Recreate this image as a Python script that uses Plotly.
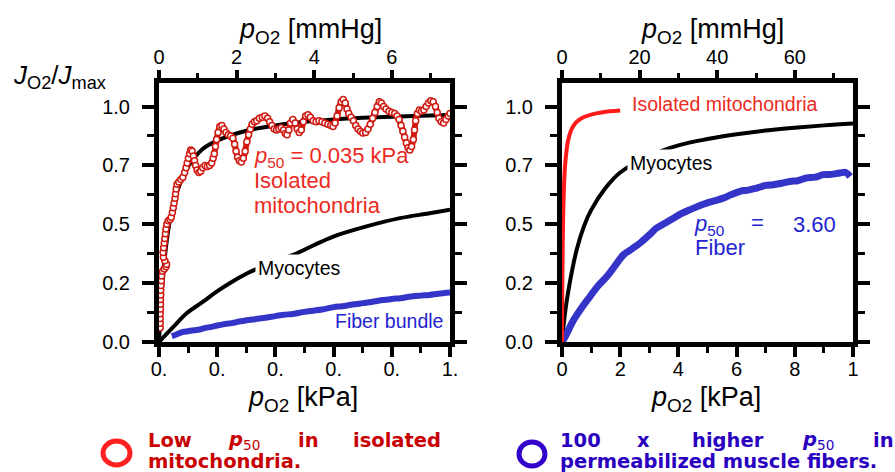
import plotly.graph_objects as go

W, H = 895, 472
KPA_TO_MMHG = 7.5

# ---------------- data (kPa, J/Jmax) ----------------
# Left panel: isolated mitochondria measured points (open circles)
mito_x = [0.004,0.004,0.004,0.004,0.005,0.005,0.005,0.006,0.006,0.007,0.008,0.009,0.012,0.018,0.024,0.026,0.020,0.015,
          0.014,0.016,0.018,0.020,0.022,0.024,0.027,0.032,0.038,0.042,0.046,0.049,0.052,0.055,0.057,0.059,0.062,0.068,
          0.075,0.082,0.088,0.093,0.097,0.101,0.105,0.109,0.114,0.118,0.122,0.126,0.131,0.137,0.143,0.150,0.158,0.166,
          0.174,0.181,0.186,0.190,0.194,0.198,0.203,0.209,0.216,0.223,0.230,0.238,0.246,0.254,0.260,0.265,0.270,0.276,
          0.283,0.290,0.296,0.302,0.308,0.314,0.320,0.328,0.336,0.345,0.355,0.364,0.373,0.380,0.388,0.396,0.404,0.412,
          0.420,0.428,0.434,0.440,0.446,0.452,0.460,0.468,0.475,0.482,0.489,0.496,0.504,0.512,0.520,0.530,0.540,0.550,
          0.560,0.570,0.580,0.590,0.598,0.605,0.612,0.619,0.626,0.633,0.640,0.646,0.652,0.660,0.668,0.676,0.684,0.692,
          0.700,0.710,0.718,0.726,0.734,0.742,0.750,0.757,0.764,0.772,0.780,0.790,0.800,0.810,0.818,0.825,0.832,0.838,
          0.844,0.850,0.856,0.862,0.868,0.874,0.878,0.882,0.888,0.895,0.902,0.910,0.918,0.926,0.934,0.942,0.950,0.956,
          0.962,0.970,0.978,0.986,0.994,1.000]
mito_y = [0.06,0.08,0.10,0.12,0.14,0.16,0.18,0.20,0.22,0.24,0.26,0.28,0.30,0.31,0.32,0.33,0.345,0.36,
          0.38,0.40,0.42,0.44,0.46,0.48,0.50,0.515,0.52,0.53,0.55,0.57,0.59,0.61,0.63,0.65,0.67,0.68,
          0.69,0.70,0.72,0.74,0.76,0.78,0.80,0.815,0.81,0.79,0.77,0.75,0.73,0.72,0.725,0.74,0.75,0.745,
          0.75,0.76,0.78,0.80,0.83,0.86,0.89,0.915,0.92,0.905,0.89,0.88,0.875,0.865,0.84,0.81,0.785,0.77,
          0.765,0.78,0.81,0.85,0.88,0.905,0.925,0.935,0.94,0.95,0.955,0.96,0.95,0.935,0.92,0.905,0.90,0.905,
          0.91,0.90,0.885,0.88,0.90,0.93,0.945,0.93,0.905,0.89,0.90,0.935,0.96,0.965,0.955,0.94,0.935,0.94,
          0.935,0.93,0.925,0.92,0.915,0.93,0.96,0.995,1.02,1.03,1.015,0.99,0.97,0.955,0.94,0.92,0.905,0.895,
          0.888,0.89,0.905,0.925,0.95,0.975,1.0,1.02,1.015,1.0,0.99,0.98,0.975,0.97,0.96,0.945,0.92,0.895,
          0.87,0.845,0.825,0.815,0.83,0.86,0.90,0.94,0.97,0.985,0.98,0.985,1.0,1.015,1.025,1.02,1.0,0.975,
          0.95,0.935,0.93,0.945,0.96,0.97]

# Left panel: fitted hyperbola for isolated mitochondria
mfit_x = [0, 0.005, 0.01, 0.02, 0.035, 0.05, 0.07, 0.10, 0.15, 0.20, 0.30, 0.40, 0.50, 0.60, 0.70, 0.80, 0.90, 1.00]
mfit_y = [0, 0.125, 0.22, 0.36, 0.50, 0.59, 0.665, 0.745, 0.82, 0.855, 0.897, 0.92, 0.935, 0.945, 0.952, 0.957, 0.961, 0.964]

# Myocytes (black curve), left panel range
myo_l_x = [0, 0.05, 0.095, 0.15, 0.198, 0.25, 0.305, 0.38, 0.461, 0.53, 0.599, 0.713, 0.828, 0.92, 1.00]
myo_l_y = [0, 0.065, 0.122, 0.17, 0.214, 0.255, 0.293, 0.333, 0.37, 0.41, 0.448, 0.491, 0.526, 0.545, 0.562]

# Fiber bundle (blue), left panel
fib_l_x = [0.044,0.06,0.08,0.10,0.12,0.14,0.16,0.18,0.20,0.22,0.25,0.28,0.30,0.33,0.36,0.40,0.43,0.46,0.50,0.53,
           0.56,0.60,0.63,0.66,0.70,0.73,0.77,0.80,0.83,0.86,0.90,0.93,0.96,1.00]
fib_l_y = [0.025,0.032,0.042,0.046,0.050,0.053,0.060,0.064,0.070,0.075,0.080,0.088,0.092,0.097,0.102,0.110,0.116,0.119,
           0.128,0.133,0.138,0.148,0.152,0.158,0.165,0.170,0.178,0.183,0.186,0.192,0.197,0.200,0.205,0.210]

# Right panel: isolated mitochondria fit (red)
mito_r_x = [0, 0.005, 0.01, 0.02, 0.035, 0.05, 0.08, 0.12, 0.20, 0.30, 0.45, 0.70, 1.0, 1.4, 2.0]
mito_r_y = [0, 0.125, 0.22, 0.36, 0.50, 0.59, 0.695, 0.77, 0.85, 0.895, 0.928, 0.952, 0.966, 0.976, 0.983]

# Right panel: myocytes (black)
myo_r_x = [0, 0.1, 0.25, 0.5, 0.75, 1.0, 1.5, 2.0, 3.0, 4.0, 5.0, 6.0, 7.0, 8.0, 9.0, 10.0]
myo_r_y = [0, 0.12, 0.24, 0.39, 0.49, 0.56, 0.655, 0.72, 0.79, 0.835, 0.862, 0.882, 0.898, 0.91, 0.92, 0.928]

# Right panel: permeabilized fibers (blue)
fib_r_x = [0, 0.1, 0.2, 0.4, 0.7, 0.96, 1.25, 1.54, 1.8, 2.11, 2.4, 2.68, 3.0, 3.25, 3.55, 3.83, 4.1, 4.4, 4.7, 4.97,
           5.25, 5.54, 5.8, 6.12, 6.4, 6.69, 7.0, 7.26, 7.55, 7.83, 8.1, 8.41, 8.7, 8.98, 9.25, 9.55, 9.75, 9.9]
fib_r_y = [0.0, 0.02, 0.045, 0.094, 0.15, 0.193, 0.24, 0.278, 0.32, 0.37, 0.395, 0.42, 0.455, 0.484, 0.505, 0.526, 0.545,
           0.562, 0.578, 0.59, 0.60, 0.611, 0.625, 0.64, 0.645, 0.654, 0.665, 0.668, 0.674, 0.682, 0.685, 0.697, 0.70,
           0.711, 0.712, 0.718, 0.72, 0.703]

# Tick labels
y_tickvals = [0, 0.25, 0.5, 0.75, 1.0]
y_ticktext = ["0.0", "0.2", "0.5", "0.7", "1.0"]
y_minor = [0.125, 0.375, 0.625, 0.875]
xl_tickvals = [0, 0.2, 0.4, 0.6, 0.8, 1.0]
xl_ticktext = ["0.", "0.", "0.", "0.", "0.", "1."]
xl_minor = [0.1, 0.3, 0.5, 0.7, 0.9]
xr_tickvals = [0, 2, 4, 6, 8, 10]
xr_ticktext = ["0", "2", "4", "6", "8", "1"]
xr_minor = [1, 3, 5, 7, 9]
tl_tickvals = [0, 2, 4, 6]
tl_minor = [1, 3, 5, 7]
tr_tickvals = [0, 20, 40, 60]
tr_minor = [10, 30, 50, 70]

# ---------------- figure ----------------
def px(x):
    return x / W

def py(y):
    return 1 - y / H

FONT = "Liberation Sans, Arial, sans-serif"
BOLD = "DejaVu Sans, Verdana, sans-serif"
MARK_RED = "#d01a12"
TXT_RED = "#ec2a22"
LINE_RED = "#ff1a1a"
BLUE = "#3434c8"
TXT_BLUE = "#2323d0"

fig = go.Figure()

# left panel
fig.add_trace(go.Scatter(x=mfit_x, y=mfit_y, mode="lines", line=dict(color="black", width=4, shape="spline"),
                         xaxis="x", yaxis="y", hoverinfo="skip"))
fig.add_trace(go.Scatter(x=myo_l_x, y=myo_l_y, mode="lines", line=dict(color="black", width=4, shape="spline"),
                         xaxis="x", yaxis="y", hoverinfo="skip"))
fig.add_trace(go.Scatter(x=fib_l_x, y=fib_l_y, mode="lines", line=dict(color=BLUE, width=6, shape="spline"),
                         xaxis="x", yaxis="y", hoverinfo="skip"))
fig.add_trace(go.Scatter(x=mito_x, y=mito_y, mode="lines+markers",
                         line=dict(color=MARK_RED, width=6, shape="spline", smoothing=0.6),
                         marker=dict(symbol="circle", size=6, color="white", line=dict(color=MARK_RED, width=1.5)),
                         xaxis="x", yaxis="y", hoverinfo="skip"))
# top mmHg axis carrier (invisible, converted data)
fig.add_trace(go.Scatter(x=[v * KPA_TO_MMHG for v in mito_x], y=mito_y, mode="lines", opacity=0,
                         xaxis="x2", yaxis="y", hoverinfo="skip"))

# right panel
fig.add_trace(go.Scatter(x=myo_r_x, y=myo_r_y, mode="lines", line=dict(color="black", width=4, shape="spline"),
                         xaxis="x3", yaxis="y2", hoverinfo="skip"))
fig.add_trace(go.Scatter(x=fib_r_x, y=fib_r_y, mode="lines", line=dict(color=BLUE, width=7, shape="spline"),
                         xaxis="x3", yaxis="y2", hoverinfo="skip"))
fig.add_trace(go.Scatter(x=mito_r_x, y=mito_r_y, mode="lines", line=dict(color=LINE_RED, width=4, shape="spline"),
                         xaxis="x3", yaxis="y2", hoverinfo="skip"))
fig.add_trace(go.Scatter(x=[v * KPA_TO_MMHG for v in myo_r_x], y=myo_r_y, mode="lines", opacity=0,
                         xaxis="x4", yaxis="y2", hoverinfo="skip"))

tickfont = dict(family=FONT, size=20, color="black")
common_x = dict(showline=True, linewidth=5, linecolor="black", ticks="outside", ticklen=10, tickwidth=4,
                tickcolor="black", showgrid=False, zeroline=False, tickfont=tickfont, fixedrange=True,
                automargin=False)
common_y = dict(showline=True, linewidth=5, linecolor="black", ticks="outside", ticklen=12, tickwidth=4,
                tickcolor="black", showgrid=False, zeroline=False, tickfont=tickfont, mirror="ticks",
                range=[0, 1.1], tickmode="array", tickvals=y_tickvals, ticktext=y_ticktext,
                minor=dict(tickmode="array", tickvals=y_minor, ticks="outside", ticklen=7, tickwidth=3,
                           tickcolor="black", showgrid=False),
                ticklabelstandoff=8, domain=[py(342), py(83)], fixedrange=True, automargin=False)

dom_l = [px(159), px(450)]
dom_r = [px(562), px(853)]

fig.update_layout(
    template="none",
    width=W, height=H, margin=dict(l=0, r=0, t=0, b=0, pad=0), autosize=False,
    paper_bgcolor="white", plot_bgcolor="white", showlegend=False,
    xaxis=dict(common_x, domain=dom_l, anchor="y", range=[0, 1.0], tickmode="array",
               tickvals=xl_tickvals, ticktext=xl_ticktext, ticklabelstandoff=-5,
               minor=dict(tickmode="array", tickvals=xl_minor, ticks="outside", ticklen=6, tickwidth=3,
                          tickcolor="black", showgrid=False)),
    xaxis2=dict(common_x, overlaying="x", side="top", anchor="y", range=[0, 1.0 * KPA_TO_MMHG],
                tickmode="array", tickvals=tl_tickvals, ticklen=8, ticklabelstandoff=-2,
                minor=dict(tickmode="array", tickvals=tl_minor, ticks="outside", ticklen=5, tickwidth=3,
                           tickcolor="black", showgrid=False)),
    yaxis=dict(common_y, anchor="x"),
    xaxis3=dict(common_x, domain=dom_r, anchor="y2", range=[0, 10], tickmode="array",
                tickvals=xr_tickvals, ticktext=xr_ticktext, ticklabelstandoff=-5,
                minor=dict(tickmode="array", tickvals=xr_minor, ticks="outside", ticklen=6, tickwidth=3,
                           tickcolor="black", showgrid=False)),
    xaxis4=dict(common_x, overlaying="x3", side="top", anchor="y2", range=[0, 10 * KPA_TO_MMHG],
                tickmode="array", tickvals=tr_tickvals, ticklen=8, ticklabelstandoff=-2,
                minor=dict(tickmode="array", tickvals=tr_minor, ticks="outside", ticklen=5, tickwidth=3,
                           tickcolor="black", showgrid=False)),
    yaxis2=dict(common_y, anchor="x3"),
)

ann = []

def text(t, x, y, size, color, family=FONT, xanchor="left", yanchor="middle", bg=None):
    d = dict(text=t, x=px(x), y=py(y), xref="paper", yref="paper", xanchor=xanchor, yanchor=yanchor,
             showarrow=False, font=dict(family=family, size=size, color=color), borderpad=0)
    if bg:
        d["bgcolor"] = bg
        d["borderpad"] = 2
    ann.append(d)

# axis titles
text("<i>J</i><sub>O2</sub>/<i>J</i><sub>max</sub>", 12, 76, 26, "black")
text("<i>p</i><sub>O2</sub> [mmHg]", 310, 31, 27, "black", xanchor="center")
text("<i>p</i><sub>O2</sub> [mmHg]", 712, 31, 27, "black", xanchor="center")
text("<i>p</i><sub>O2</sub> [kPa]", 303, 399, 27, "black", xanchor="center")
text("<i>p</i><sub>O2</sub> [kPa]", 706, 399, 27, "black", xanchor="center")

# left panel labels
text("<i>p</i><sub>50</sub> = 0.035 kPa", 253, 157, 22, TXT_RED)
text("Isolated", 253, 180, 22, TXT_RED)
text("mitochondria", 253, 206, 22, TXT_RED)
text("Myocytes", 255, 268, 19.5, "black", bg="white")
text("Fiber bundle", 334, 321, 19.5, TXT_BLUE)

# right panel labels
text("Isolated mitochondria", 631, 104, 19.5, TXT_RED)
text("Myocytes", 627, 163, 19.5, "black", bg="white")
text("<i>p</i><sub>50</sub>", 693, 225, 22, TXT_BLUE)
text("=", 750, 223, 22, TXT_BLUE)
text("3.60", 792, 224, 22, TXT_BLUE)
text("Fiber", 694, 247, 22, TXT_BLUE)

# bottom statements (justified words)
R_BOT = "#c80000"
B_BOT = "#2a00c0"
for t, x in [("<b>Low</b>", 147), ("<b><i>p</i></b><sub>50</sub>", 227), ("<b>in</b>", 297), ("<b>isolated</b>", 352)]:
    text(t, x, 440, 19.5, R_BOT, family=BOLD)
text("<b>mitochondria.</b>", 147, 461, 19.5, R_BOT, family=BOLD)
for t, x in [("<b>100</b>", 559), ("<b>x</b>", 636), ("<b>higher</b>", 691), ("<b><i>p</i></b><sub>50</sub>", 801),
             ("<b>in</b>", 872)]:
    text(t, x, 440, 19.5, B_BOT, family=BOLD)
text("<b>permeabilized muscle fibers.</b>", 559, 461, 19.5, B_BOT, family=BOLD)

fig.update_layout(annotations=ann)

# bullet rings
fig.add_shape(type="circle", xref="paper", yref="paper", x0=px(103), x1=px(130), y0=py(465), y1=py(441),
              line=dict(color="#ff2020", width=5))
fig.add_shape(type="circle", xref="paper", yref="paper", x0=px(519), x1=px(545), y0=py(466), y1=py(442),
              line=dict(color="#3300cc", width=5))

fig.write_html("out.html", config={"displayModeBar": False},
               post_script="document.body.style.margin='0px';document.body.style.overflow='hidden';")
